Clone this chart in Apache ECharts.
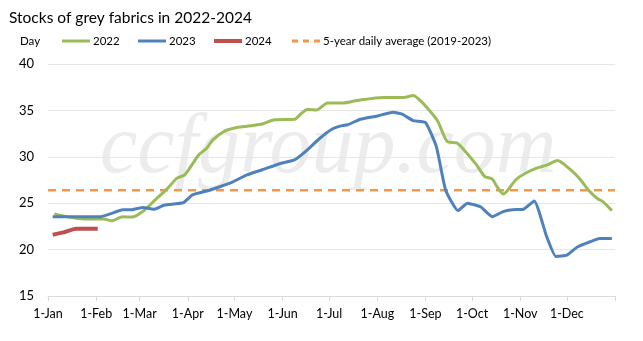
<!DOCTYPE html>
<html>
<head>
<meta charset="utf-8">
<script src="https://cdn.jsdelivr.net/npm/echarts@6/dist/echarts.min.js"></script>
<style>
html,body{margin:0;padding:0;background:#fff;}
#chart{width:643px;height:341px;}
</style>
</head>
<body>
<div id="chart"></div>
<script>
// ---- data ----
const monthStartDays = [0, 31, 59, 90, 120, 151, 181, 212, 243, 273, 304, 334, 365];
const tickLabels = ['1-Jan', '1-Feb', '1-Mar', '1-Apr', '1-May', '1-Jun', '1-Jul', '1-Aug', '1-Sep', '1-Oct', '1-Nov', '1-Dec'];

const days2022 = [4, 23, 36, 41, 48, 54, 61, 69, 77, 83, 88, 97, 102, 106, 113, 120, 128, 137, 146, 159, 162, 167, 173, 180, 190, 199, 216, 229, 235, 240, 246, 251, 257, 263, 267, 276, 281, 286, 289, 293, 296, 301, 307, 315, 321, 328, 335, 342, 348, 354, 357, 363];
const values2022 = [23.85, 23.3, 23.3, 23.1, 23.55, 23.5, 24.1, 25.35, 26.6, 27.7, 28.05, 30.2, 30.9, 31.8, 32.7, 33.1, 33.3, 33.5, 34.0, 34.05, 34.5, 35.1, 35.05, 35.8, 35.8, 36.07, 36.4, 36.4, 36.6, 36.0, 34.9, 33.8, 31.65, 31.5, 30.9, 29.1, 27.9, 27.6, 26.8, 26.0, 26.4, 27.5, 28.2, 28.8, 29.1, 29.6, 28.8, 27.7, 26.4, 25.45, 25.2, 24.2];

const days2023 = [3, 34, 41, 48, 54, 61, 68, 75, 87, 93, 104, 111, 119, 128, 138, 149, 159, 167, 175, 183, 188, 193, 201, 212, 222, 228, 235, 243, 250, 256, 264, 270, 277, 279, 286, 293, 299, 306, 313, 321, 327, 334, 341, 349, 355, 363];
const values2023 = [23.55, 23.55, 23.9, 24.3, 24.3, 24.55, 24.35, 24.8, 25.05, 25.9, 26.4, 26.8, 27.3, 28.05, 28.6, 29.25, 29.7, 30.75, 32.0, 33.0, 33.3, 33.45, 34.05, 34.4, 34.8, 34.6, 33.9, 33.7, 31.1, 26.4, 24.2, 25.0, 24.7, 24.55, 23.55, 24.1, 24.3, 24.35, 25.25, 21.4, 19.25, 19.4, 20.3, 20.85, 21.2, 21.2];

const days2024 = [3, 10, 18, 25, 32];
const values2024 = [21.6, 21.85, 22.25, 22.25, 22.25];

const avgDays = [0, 365];
const avgValues = [26.4, 26.4];

const seriesNames = ['2022', '2023', '2024', '5-year daily average (2019-2023)'];
const yTicks = [15, 20, 25, 30, 35, 40];

function pairs(d, v) { return d.map((x, i) => [x, v[i]]); }

const chart = echarts.init(document.getElementById('chart'), null, {renderer: 'canvas'});
const FONT = 'Lato';
const colors = ['#9BBB59', '#4F81BD', '#C0504D', '#F79646'];
const legendLeft = [62, 138, 214, 292];
const legendIcons = ['rect', 'rect', 'rect', 'path://M0,0h6v3h-6zM11,0h6v3h-6zM22,0h6v3h-6z'];
const legendHeights = [3, 3, 4, 3];

const legends = seriesNames.map((n, i) => ({
  left: legendLeft[i], top: 35, padding: 0,
  itemWidth: 28, itemHeight: legendHeights[i],
  textStyle: {fontFamily: FONT, fontSize: 11.5, color: '#000', padding: [0, 0, 0, -2]},
  data: [{name: n, icon: legendIcons[i]}]
}));

chart.setOption({
  animation: false,
  backgroundColor: '#ffffff',
  title: {
    text: 'Stocks of grey fabrics in 2022-2024',
    left: 4, top: 5,
    textStyle: {fontFamily: FONT, fontSize: 15.5, fontWeight: 'normal', color: '#000'}
  },
  graphic: [
    {
      type: 'text', left: 20, top: 35, z: 10,
      style: {text: 'Day', fontFamily: FONT, fontSize: 11.5, fill: '#000'}
    },
    {
      type: 'text', left: 100, top: 108, z: 0, silent: true,
      style: {text: 'ccfgroup.com', fontFamily: 'Liberation Serif', fontStyle: 'italic', fontSize: 84, fill: '#ececec'}
    }
  ],
  legend: legends,
  grid: {left: 48, right: 28, top: 64, bottom: 45, containLabel: false},
  xAxis: {
    type: 'value', min: 0, max: 365,
    axisLine: {show: true, lineStyle: {color: '#d9d9d9', width: 1}},
    axisTick: {show: true, length: 5, lineStyle: {color: '#d9d9d9'}, customValues: monthStartDays},
    axisLabel: {
      customValues: monthStartDays.slice(0, 12),
      formatter: v => tickLabels[monthStartDays.indexOf(v)],
      fontFamily: FONT, fontSize: 12.5, color: '#000', margin: 11
    },
    splitLine: {show: false}
  },
  yAxis: {
    type: 'value', min: yTicks[0], max: yTicks[yTicks.length - 1], interval: 5,
    axisLine: {show: false}, axisTick: {show: false},
    axisLabel: {fontFamily: FONT, fontSize: 13, color: '#000', margin: 14},
    splitLine: {lineStyle: {color: '#e6e6e6', width: 1}}
  },
  series: [
    {name: seriesNames[0], type: 'line', data: pairs(days2022, values2022), showSymbol: false, symbol: 'none', smooth: 0.25,
     lineStyle: {color: colors[0], width: 3}, itemStyle: {color: colors[0]}, z: 3},
    {name: seriesNames[1], type: 'line', data: pairs(days2023, values2023), showSymbol: false, symbol: 'none', smooth: 0.15,
     lineStyle: {color: colors[1], width: 3}, itemStyle: {color: colors[1]}, z: 4},
    {name: seriesNames[2], type: 'line', data: pairs(days2024, values2024), showSymbol: false, symbol: 'none', smooth: 0.2,
     lineStyle: {color: colors[2], width: 4}, itemStyle: {color: colors[2]}, z: 5},
    {name: seriesNames[3], type: 'line', data: pairs(avgDays, avgValues), showSymbol: false, symbol: 'none',
     lineStyle: {color: colors[3], width: 2.5, type: [8, 6]}, itemStyle: {color: colors[3]}, z: 2}
  ]
});
</script>
</body>
</html>
